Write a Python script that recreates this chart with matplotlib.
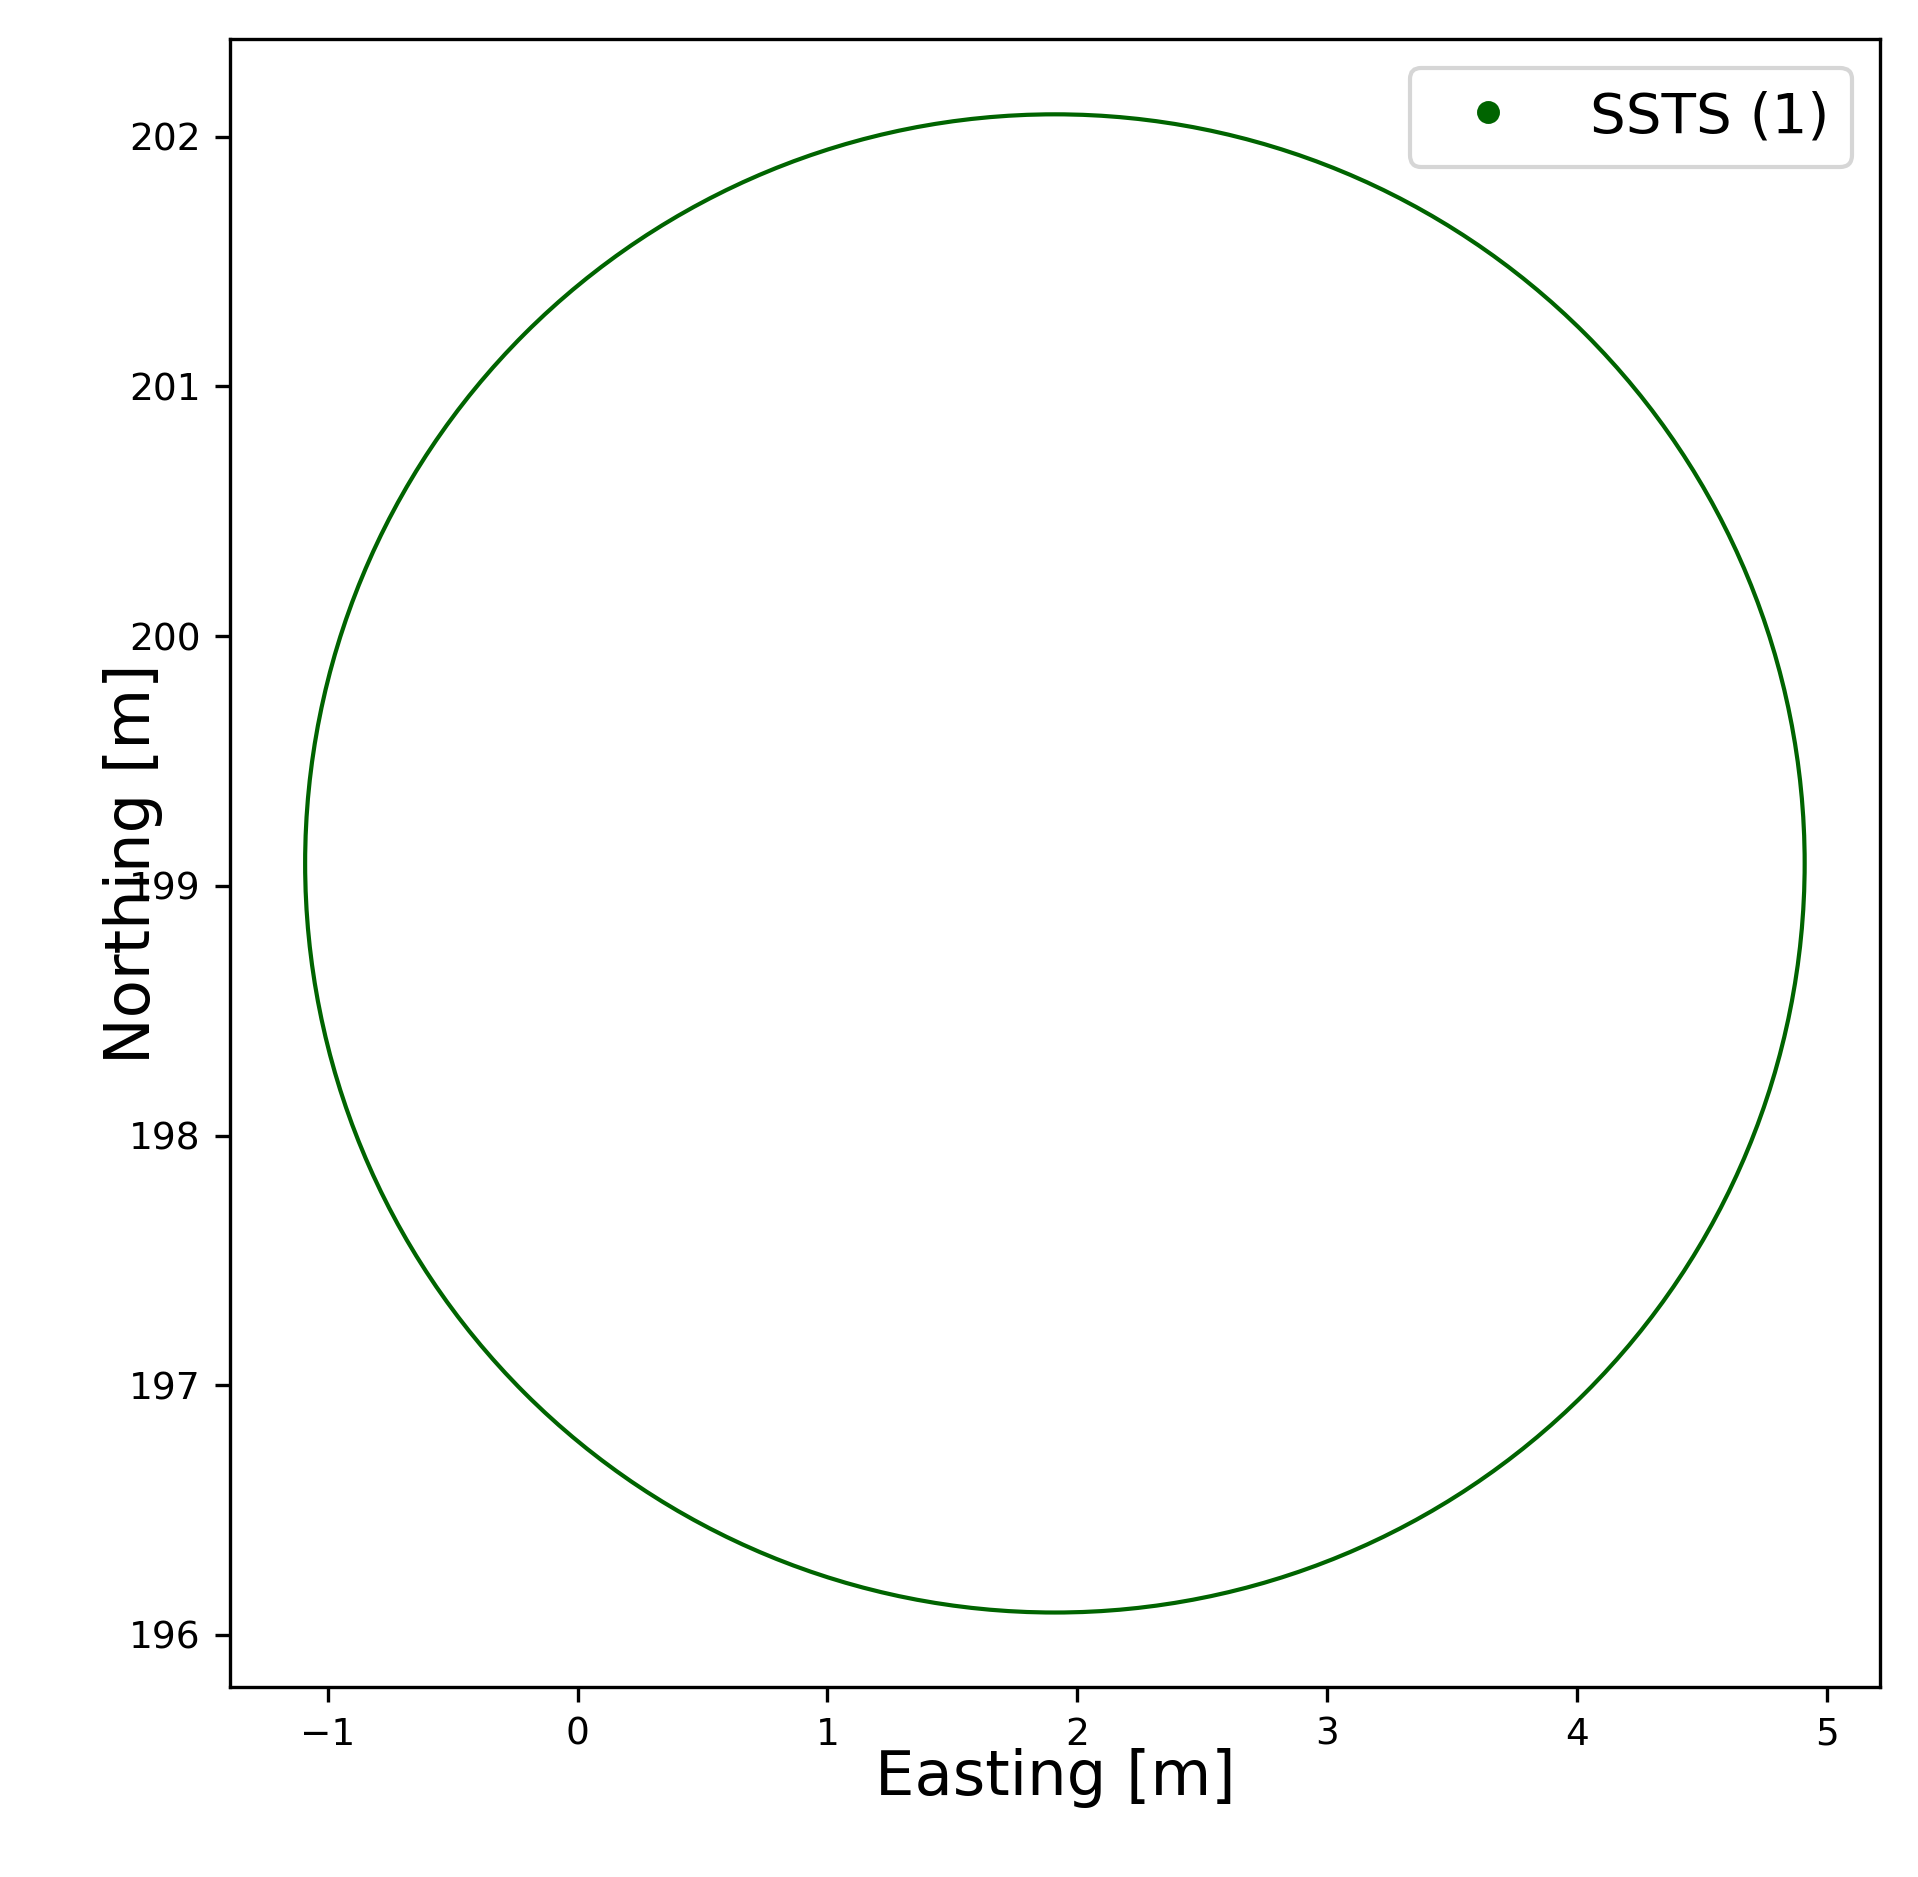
import matplotlib
matplotlib.use("Agg")
import matplotlib.pyplot as plt
from matplotlib.patches import Circle
from matplotlib.lines import Line2D

# track of the SSTS receiver
center_easting = 1.91
center_northing = 199.09
radius = 3.0
label = "SSTS (1)"
color = "#006400"

fig, ax = plt.subplots(figsize=(1918 / 300, 1877 / 300), dpi=300)
fig.subplots_adjust(left=0.12, right=0.98, top=0.979, bottom=0.101)

ax.add_patch(Circle((center_easting, center_northing), radius, fill=False,
                    edgecolor=color, linewidth=1.0))
ax.autoscale_view()
ax.margins(0.05)

handle = Line2D([], [], marker="o", linestyle="none", color=color, markersize=4.5)
ax.legend([handle], [label], loc="upper right", fontsize=13.5)

ax.set_xlabel("Easting [m]", fontsize=15, labelpad=-1)
ax.set_ylabel("Northing [m]", fontsize=15, labelpad=-8)
ax.tick_params(labelsize=9)

fig.savefig("out.png", dpi=300)
